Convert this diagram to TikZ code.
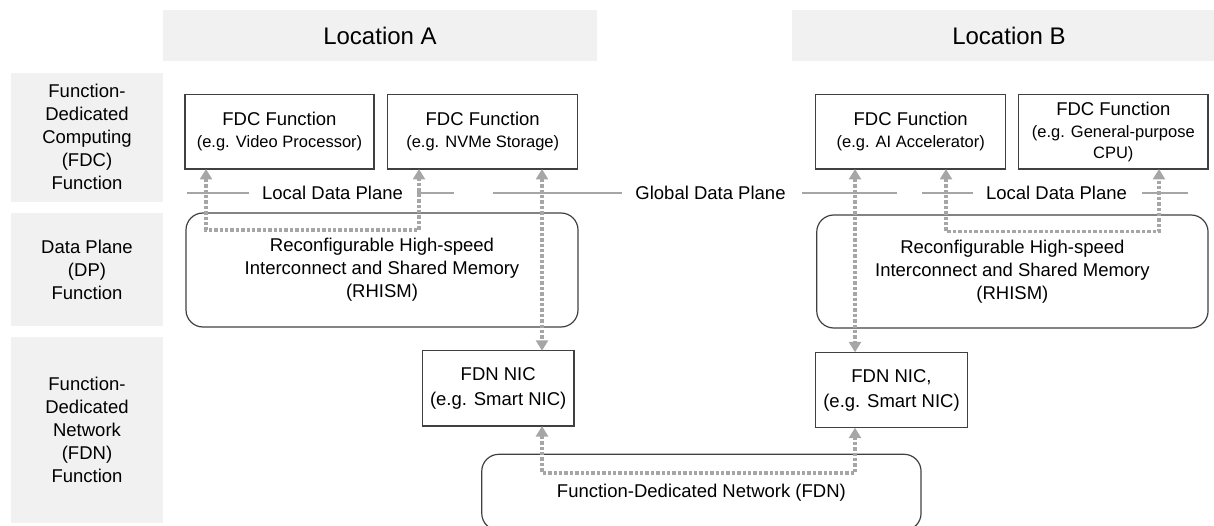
\documentclass[tikz,border=0pt]{standalone}
\usepackage{fontspec}
\setmainfont{Liberation Sans}
\usetikzlibrary{arrows.meta}
\definecolor{bandgray}{HTML}{F1F1F1}
\definecolor{lngray}{HTML}{A6A6A6}
\definecolor{bdgray}{HTML}{404040}
\definecolor{txt}{HTML}{000000}
\newcommand\fmain{\fontsize{18.5}{23}\selectfont}
\newcommand\fsub{\fontsize{16.5}{20}\selectfont}
\newcommand\floc{\fontsize{24}{28}\selectfont}
\begin{document}
\begin{tikzpicture}[x=1pt,y=-1pt,
  every node/.style={inner sep=0pt, outer sep=0pt, align=center, text=txt, font=\fmain},
  band/.style={fill=bandgray, draw=none},
  fbox/.style={draw=bdgray, line width=1.2pt, fill=white},
  rbox/.style={draw=bdgray, line width=1.2pt, rounded corners=17pt},
  dline/.style={draw=lngray, line width=1.6pt},
  darr/.style={draw=lngray, line width=3.6pt, dash pattern=on 3.4pt off 2pt,
    {Triangle[width=12pt,length=10.5pt]}-{Triangle[width=12pt,length=10.5pt]}},
]
\useasboundingbox (0,0) rectangle (1214,526);
\clip (0,0) rectangle (1214,526);

% headers
\node[band, minimum width=434pt, minimum height=51pt, font=\floc] (locA) at (380,35.5) {Location A};
\node[band, minimum width=434pt, minimum height=51pt, font=\floc] (locB) at (1009,35.5) {Location B};

% left labels
\node[band, minimum width=152pt, minimum height=129pt] (lab1) at (87,137.2)
  {Function-\\Dedicated\\Computing\\(FDC)\\Function};
\node[band, minimum width=152pt, minimum height=113.3pt] (lab2) at (87,269.4)
  {Data Plane\\(DP)\\Function};
\node[band, minimum width=152pt, minimum height=186pt] (lab3) at (87,429.7)
  {Function-\\Dedicated\\Network\\(FDN)\\Function};

% FDC boxes
\node[fbox, minimum width=189pt, minimum height=74.5pt] (fdc1) at (279.5,131.75)
  {FDC Function\\[-1pt]{\fsub (e.g. Video Processor)}};
\node[fbox, minimum width=190pt, minimum height=74.5pt] (fdc2) at (482.7,131.75)
  {FDC Function\\[-1pt]{\fsub (e.g. NVMe Storage)}};
\node[fbox, minimum width=190pt, minimum height=74.5pt] (fdc3) at (910.7,131.75)
  {FDC Function\\[-1pt]{\fsub (e.g. AI Accelerator)}};
\node[fbox, minimum width=189.3pt, minimum height=74.5pt] (fdc4) at (1113.3,131.75)
  {FDC Function\\[-1pt]{\fsub (e.g. General-purpose}\\[-2pt]{\fsub CPU)}};

% RHISM boxes
\node[rbox, minimum width=392pt, minimum height=114pt] (rhA) at (382,270)
  {Reconfigurable High-speed\\Interconnect and Shared Memory\\(RHISM)};
\node[rbox, minimum width=391.3pt, minimum height=113pt] (rhB) at (1012.4,271.5)
  {Reconfigurable High-speed\\Interconnect and Shared Memory\\(RHISM)};

% NIC boxes
\node[fbox, minimum width=151.7pt, minimum height=75.3pt] (nicA) at (498.2,388.4)
  {FDN NIC\\[2pt](e.g. Smart NIC)};
\node[fbox, minimum width=151.6pt, minimum height=75.4pt] (nicB) at (891.5,390)
  {FDN NIC,\\[2pt](e.g. Smart NIC)};

% FDN
\node[rbox, minimum width=439.3pt, minimum height=76pt] (fdn) at (701.4,492.3)
  {Function-Dedicated Network (FDN)};

% data plane lines
\node (ldpA) at (332.5,193) {Local Data Plane};
\node (gdp) at (710.5,193) {Global Data Plane};
\node (ldpB) at (1056.5,193) {Local Data Plane};
\draw[dline] (187,193) -- (249,193);
\draw[dline] (417,193) -- (454,193);
\draw[dline] (493,193) -- (621.5,193);
\draw[dline] (801.5,193) -- (897,193);
\draw[dline] (921.7,193) -- (973,193);
\draw[dline] (1141.7,193) -- (1187.7,193);

% dotted connectors
\coordinate (xA1) at (206,0);
\coordinate (xA2) at (419,0);
\coordinate (xA3) at (542,0);
\coordinate (xB1) at (855,0);
\coordinate (xB2) at (946,0);
\coordinate (xB3) at (1159,0);
\coordinate (yA) at (0,230);
\coordinate (yB) at (0,231.5);
\coordinate (yF) at (0,473);

\draw[darr] (fdc1.south -| xA1) -- (xA1 |- yA) -- (xA2 |- yA) -- (fdc2.south -| xA2);
\draw[darr] (fdc2.south -| xA3) -- (nicA.north -| xA3);
\draw[darr] (fdc3.south -| xB1) -- (nicB.north -| xB1);
\draw[darr] (fdc3.south -| xB2) -- (xB2 |- yB) -- (xB3 |- yB) -- (fdc4.south -| xB3);
\draw[darr] (nicA.south -| xA3) -- (xA3 |- yF) -- (xB1 |- yF) -- (nicB.south -| xB1);
\end{tikzpicture}
\end{document}
